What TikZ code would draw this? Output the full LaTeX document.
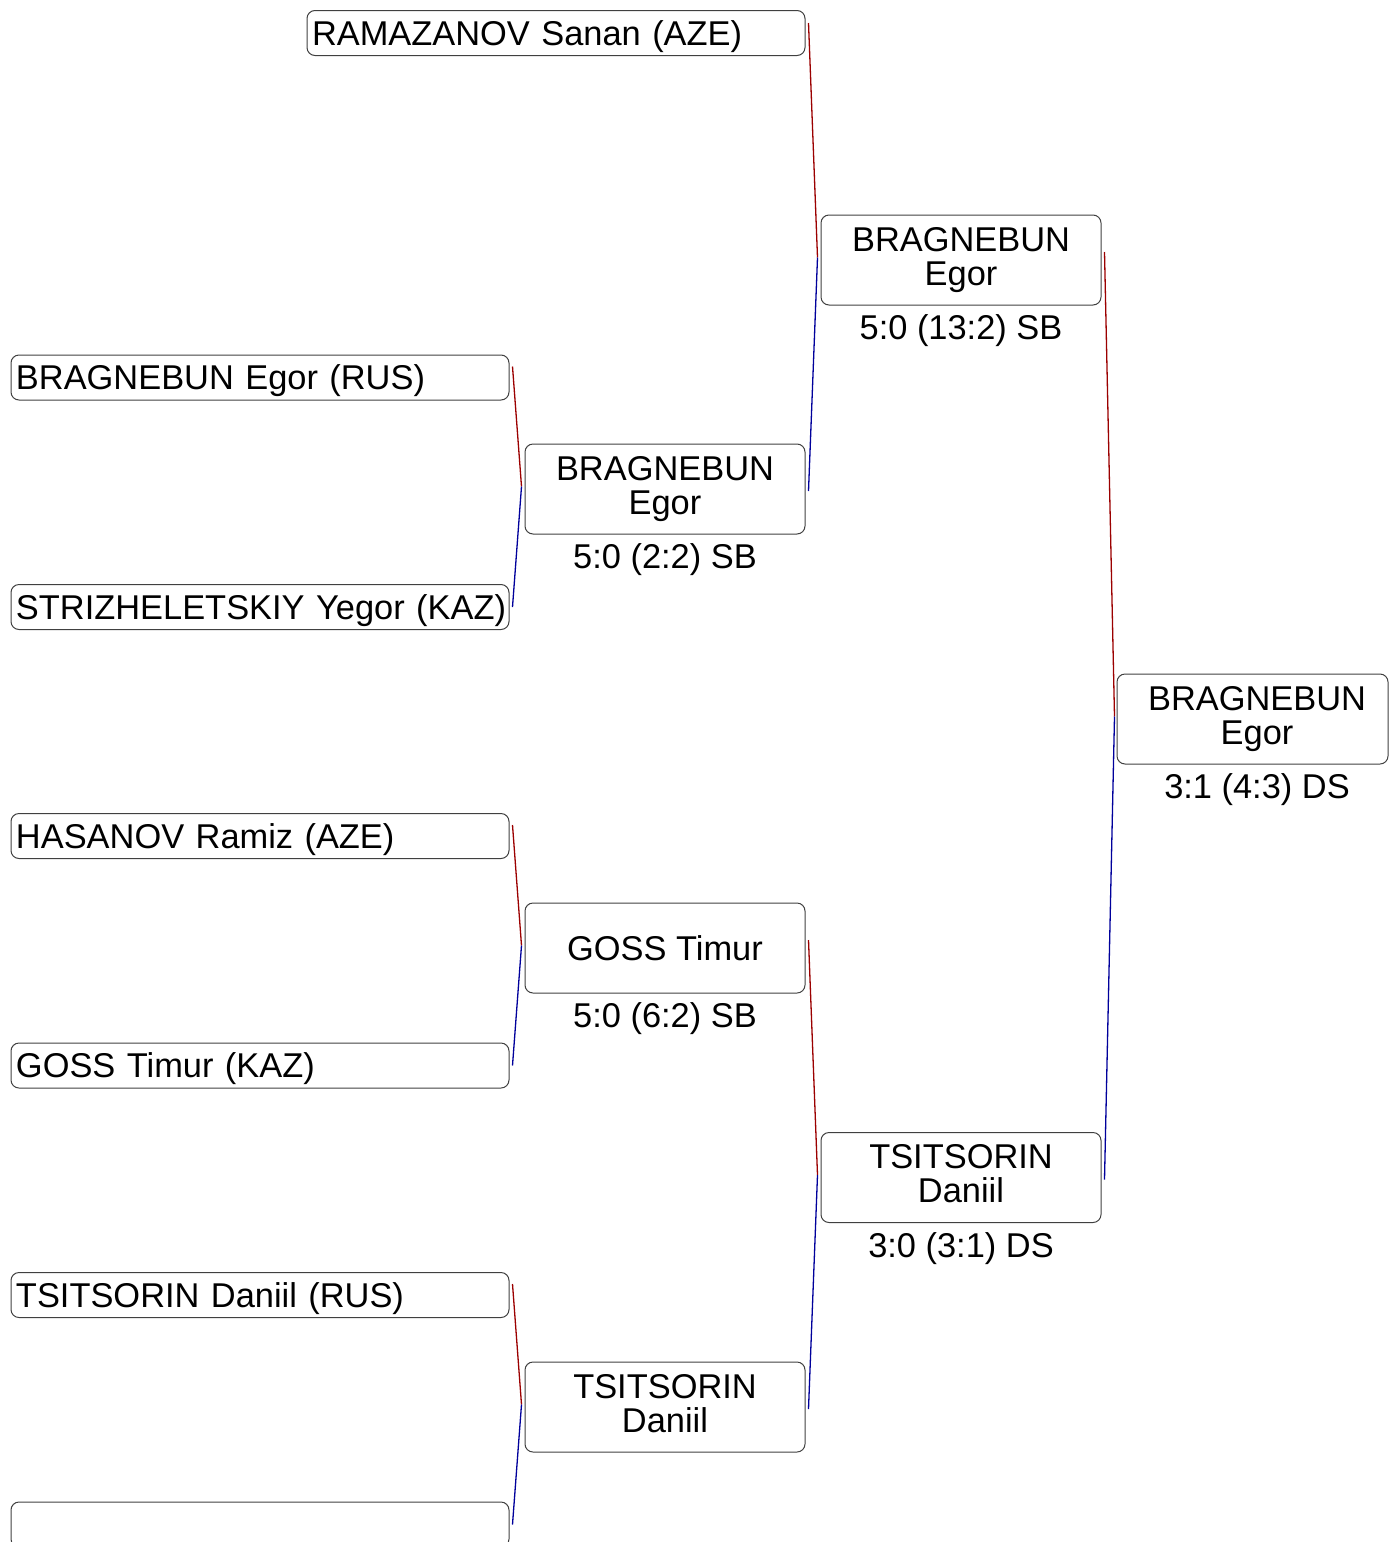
\documentclass[tikz,border=0pt]{standalone}
\usepackage{fontspec}
\setmainfont{Liberation Sans}
\usetikzlibrary{calc}
\definecolor{winred}{RGB}{155,0,0}
\definecolor{winblue}{RGB}{0,0,155}
\begin{document}
\begin{tikzpicture}[x=1pt,y=-1pt,
  every node/.style={font=\fontsize{34.4}{34}\selectfont},
  box/.style={draw=black!75, line width=1pt, rounded corners=8pt, inner ysep=0pt},
  entrant/.style={box, inner xsep=5pt, minimum width=498pt, minimum height=45pt, text width=488pt, align=left, text height=24pt, text depth=0pt},
  winner/.style={box, inner xsep=0pt, minimum width=280pt, minimum height=90pt, align=center},
  score/.style={inner sep=0pt, anchor=base},
  upline/.style={winred, line width=1.3pt},
  lowline/.style={winblue, line width=1.3pt}]
\useasboundingbox (0,0) rectangle (1389,1542);
\clip (0,0) rectangle (1389,1542);

% round 1
\node[entrant] (a) at (556,33) {\mbox{RAMAZANOV Sanan (AZE)}};
\node[entrant] (b) at (260,377.5) {\mbox{BRAGNEBUN Egor (RUS)}};
\node[entrant] (c) at (260,607) {\mbox{STRIZHELETSKIY Yegor (KAZ)}};
\node[entrant] (d) at (260,836) {\mbox{HASANOV Ramiz (AZE)}};
\node[entrant] (e) at (260,1065.5) {\mbox{GOSS Timur (KAZ)}};
\node[entrant] (f) at (260,1295) {\mbox{TSITSORIN Daniil (RUS)}};
\node[entrant] (g) at (260,1524.5) {};

% round 2
\node[winner] (m1) at (665,489) {BRAGNEBUN\\Egor};
\node[winner] (m2) at (665,948) {GOSS Timur};
\node[winner] (m3) at (665,1407) {TSITSORIN\\Daniil\vphantom{g}};

% round 3
\node[winner] (s1) at (961,260) {BRAGNEBUN\\Egor};
\node[winner] (s2) at (961,1177.5) {TSITSORIN\\Daniil\vphantom{g}};

% final
\node[winner, minimum width=271pt] (fin) at (1252.5,719) {\hspace*{9pt}BRAGNEBUN\\\hspace*{9pt}Egor};

% scores
\node[score] (sc1) at ($(m1.south)+(0,34)$) {5:0 (2:2) SB};
\node[score] (sc2) at ($(m2.south)+(0,34)$) {5:0 (6:2) SB};
\node[score] (sc4) at ($(s1.south)+(0,34)$) {5:0 (13:2) SB};
\node[score] (sc5) at ($(s2.south)+(0,34)$) {3:0 (3:1) DS};
\node[score] (sc6) at ($(fin.south)+(4.5,34)$) {3:1 (4:3) DS};

% connector points
\coordinate (jm1) at ($(m1.west)+(-3,-2.5)$);
\coordinate (jm2) at ($(m2.west)+(-3,-2.5)$);
\coordinate (jm3) at ($(m3.west)+(-3,-2.5)$);
\coordinate (js1) at ($(s1.west)+(-3,-2.5)$);
\coordinate (js2) at ($(s2.west)+(-3,-2.5)$);
\coordinate (jfin) at ($(fin.west)+(-2,-2.5)$);

\coordinate (ob) at ($(b.east)+(3,-11)$);
\coordinate (oc) at ($(c.east)+(3,0)$);
\coordinate (od) at ($(d.east)+(3,-11)$);
\coordinate (oe) at ($(e.east)+(3,0)$);
\coordinate (of) at ($(f.east)+(3,-11)$);
\coordinate (og) at ($(g.east)+(3,0)$);
\coordinate (oa) at ($(a.east)+(3,-10)$);
\coordinate (om1) at ($(m1.east)+(3,2)$);
\coordinate (om2) at ($(m2.east)+(3,-8)$);
\coordinate (om3) at ($(m3.east)+(3,2)$);
\coordinate (os1) at ($(s1.east)+(3,-8)$);
\coordinate (os2) at ($(s2.east)+(3,2)$);

\draw[upline] (ob) -- (jm1);
\draw[lowline] (jm1) -- (oc);
\draw[upline] (od) -- (jm2);
\draw[lowline] (jm2) -- (oe);
\draw[upline] (of) -- (jm3);
\draw[lowline] (jm3) -- (og);
\draw[upline] (oa) -- (js1);
\draw[lowline] (js1) -- (om1);
\draw[upline] (om2) -- (js2);
\draw[lowline] (js2) -- (om3);
\draw[upline] (os1) -- (jfin);
\draw[lowline] (jfin) -- (os2);
\end{tikzpicture}
\end{document}
